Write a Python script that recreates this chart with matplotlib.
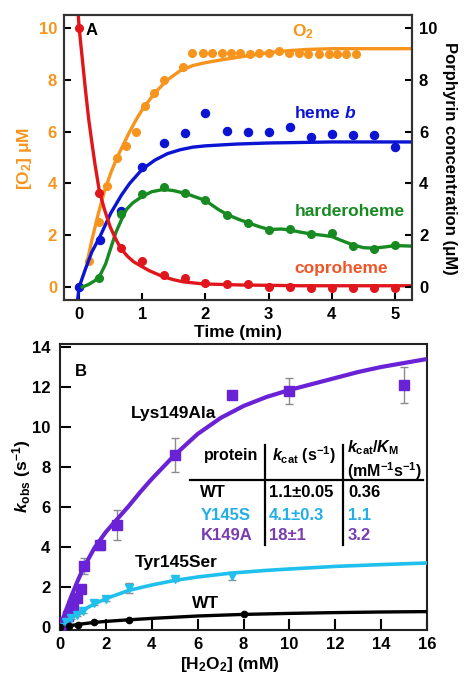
import matplotlib
matplotlib.use("Agg")
import matplotlib.pyplot as plt

plt.rcParams['font.family'] = ['Liberation Sans', 'DejaVu Sans']
plt.rcParams['font.weight'] = 'bold'
plt.rcParams['mathtext.fontset'] = 'custom'
plt.rcParams['mathtext.rm'] = 'Liberation Sans:bold'
plt.rcParams['mathtext.it'] = 'Liberation Sans:bold:italic'
plt.rcParams['mathtext.bf'] = 'Liberation Sans:bold'
plt.rcParams['mathtext.sf'] = 'Liberation Sans:bold'

# ---------------- Panel A data ----------------
o2_t = [0.16, 0.32, 0.44, 0.6, 0.74, 0.9, 1.04, 1.19, 1.35, 1.65,
        1.79, 1.96, 2.11, 2.26, 2.4, 2.55, 2.7, 2.85, 3.0, 3.16, 3.32,
        3.48, 3.63, 3.79, 3.95, 4.08, 4.22, 4.38]
o2_y = [1.0, 2.5, 3.9, 5.0, 5.45, 6.0, 7.0, 7.5, 8.0, 8.5,
        9.05, 9.05, 9.05, 9.05, 9.05, 9.05, 9.0, 9.05, 9.05, 9.1, 9.05,
        9.05, 9.0, 9.0, 9.0, 9.0, 9.0, 9.0]
o2_fit_t = [0.13, 0.2, 0.3, 0.4, 0.5, 0.6, 0.7, 0.8, 0.9, 1.0, 1.2, 1.4,
            1.6, 1.8, 2.0, 2.23, 2.6, 3.0, 3.3, 3.6, 4.0, 4.5, 5.27]
o2_fit_y = [1.0, 1.8, 2.8, 3.7, 4.4, 5.0, 5.5, 6.0, 6.45, 6.85, 7.5, 8.0,
            8.35, 8.55, 8.66, 8.76, 8.9, 9.05, 9.12, 9.17, 9.2, 9.2, 9.2]

heme_t = [0.0, 0.33, 0.67, 0.99, 1.34, 1.67, 2.0, 2.34, 2.67, 3.0, 3.34,
          3.67, 4.0, 4.33, 4.67, 5.0]
heme_y = [0.0, 1.8, 2.95, 4.65, 5.57, 5.93, 6.7, 6.02, 6.0, 6.0, 6.19,
          5.78, 5.91, 5.87, 5.87, 5.42]
heme_fit_t = [-0.03, 0.0, 0.1, 0.2, 0.33, 0.5, 0.67, 0.8, 1.0, 1.2, 1.4,
              1.6, 1.8, 2.0, 2.5, 3.0, 4.0, 5.27]
heme_fit_y = [-0.6, 0.0, 0.7, 1.35, 1.95, 2.85, 3.55, 4.0, 4.55, 4.9, 5.15,
              5.3, 5.4, 5.45, 5.52, 5.56, 5.6, 5.6]

hard_t = [0.32, 0.66, 1.0, 1.34, 1.67, 2.0, 2.34, 2.68, 3.01, 3.34, 3.67,
          4.0, 4.33, 4.67, 5.0]
hard_y = [0.36, 2.82, 3.59, 3.87, 3.64, 3.36, 2.8, 2.48, 2.2, 2.23, 2.03,
          2.07, 1.6, 1.46, 1.62]
hard_fit_t = [0.05, 0.15, 0.25, 0.33, 0.42, 0.5, 0.58, 0.67, 0.75, 0.85,
              1.0, 1.15, 1.34, 1.5, 1.7, 2.0, 2.2, 2.34, 2.55, 2.68, 2.85,
              3.01, 3.2, 3.34, 3.5, 3.67, 3.85, 4.0, 4.15, 4.33, 4.5, 4.67,
              4.85, 5.0, 5.27]
hard_fit_y = [0.0, 0.1, 0.25, 0.45, 0.9, 1.5, 2.1, 2.6, 3.0, 3.25,
              3.5, 3.68, 3.77, 3.72, 3.6, 3.34, 3.0, 2.8, 2.59, 2.48, 2.33,
              2.22, 2.24, 2.2, 2.12, 2.05, 2.0, 1.95, 1.8, 1.63, 1.52, 1.5,
              1.55, 1.6, 1.58]

copro_t = [0.0, 0.32, 0.66, 1.0, 1.34, 1.67, 2.0, 2.34, 2.68, 3.01, 3.34,
           3.67, 4.0, 4.33, 4.67, 5.0]
copro_y = [10.0, 3.64, 1.49, 1.02, 0.46, 0.36, 0.17, 0.12, 0.12, 0.0, 0.0,
           -0.05, -0.05, -0.05, -0.05, -0.05]
copro_fit_t = [-0.02, 0.0, 0.05, 0.1, 0.15, 0.2, 0.25, 0.32, 0.4, 0.49,
               0.58, 0.66, 0.76, 0.86, 1.0, 1.12, 1.33, 1.5, 1.65, 1.97,
               2.55, 3.5, 5.27]
copro_fit_y = [10.7, 10.0, 8.8, 7.6, 6.5, 5.6, 4.75, 3.7, 3.0, 2.33,
               1.85, 1.49, 1.2, 0.98, 0.78, 0.62, 0.4, 0.28, 0.2, 0.12,
               0.08, 0.05, 0.05]

# ---------------- Panel B data ----------------
k149_x = [0.0, 0.2, 0.35, 0.55, 0.75, 0.9, 1.05, 1.75, 2.5, 5.0, 7.5, 10.0, 15.0]
k149_y = [0.0, 0.25, 0.55, 1.1, 1.45, 1.9, 3.05, 4.1, 5.1, 8.6, 11.6, 11.8, 12.1]
k149_e = [0.05, 0.1, 0.1, 0.15, 0.15, 0.2, 0.4, 0.25, 0.75, 0.85, 0.2, 0.65, 0.9]
k149_fit_x = [0, 0.25, 0.5, 0.75, 1, 1.5, 2, 2.5, 3, 3.5, 4, 4.5, 5, 6, 7, 8,
              9, 10, 11, 12, 13, 14, 15, 16]
k149_fit_y = [0, 0.8, 1.55, 2.25, 2.9, 3.95, 4.75, 5.4, 6.05, 6.75, 7.4, 8.0,
              8.6, 9.65, 10.45, 11.05, 11.5, 11.85, 12.15, 12.45, 12.75, 13.0,
              13.2, 13.4]

y145_x = [0.0, 0.25, 0.5, 0.75, 1.0, 1.5, 2.0, 3.0, 5.0, 7.5]
y145_y = [0.0, 0.25, 0.45, 0.62, 0.8, 1.2, 1.4, 1.95, 2.4, 2.55]
y145_e = [0.03, 0.05, 0.05, 0.05, 0.08, 0.08, 0.1, 0.27, 0.1, 0.22]
y145_fit_x = [0, 0.25, 0.5, 1, 1.5, 2, 3, 4, 5, 6, 7.5, 9, 10, 12, 14, 16]
y145_fit_y = [0, 0.25, 0.48, 0.85, 1.15, 1.42, 1.83, 2.1, 2.33, 2.5, 2.7,
              2.83, 2.9, 3.03, 3.12, 3.2]

wt_x = [0.0, 0.4, 0.8, 1.5, 3.0, 8.0]
wt_y = [0.0, 0.05, 0.12, 0.27, 0.36, 0.65]
wt_fit_x = [0, 0.5, 1, 1.5, 2, 3, 4, 6, 8, 10, 12, 14, 16]
wt_fit_y = [0, 0.08, 0.16, 0.23, 0.28, 0.36, 0.43, 0.55, 0.63, 0.68, 0.72,
            0.75, 0.77]

table_proteins = ['WT', 'Y145S', 'K149A']
table_kcat = ['1.1\u00b10.05', '4.1\u00b10.3', '18\u00b11']
table_kcat_km = ['0.36', '1.1', '3.2']

ORANGE = '#F7941D'
BLUE = '#0A14D2'
GREEN = '#178A22'
RED = '#E0161C'
COPRO_TXT = '#EE5529'
PURPLE = '#6A22D6'
PURPLE_TXT = '#7A3DB0'
CYAN = '#20C0EE'
CYAN_TXT = '#22AEE6'
GRAY = '#8C8C8C'

W, H = 465, 690
fig = plt.figure(figsize=(W / 100, H / 100), dpi=100)

def fx(px):
    return px / W

def fy(py):
    return 1 - py / H

# ---------------- Panel A ----------------
axA = fig.add_axes([fx(64), fy(300), fx(412) - fx(64), fy(15) - fy(300)])
axA.plot(o2_fit_t, o2_fit_y, color=ORANGE, lw=2.4, zorder=3)
axA.plot(o2_t, o2_y, 'o', color=ORANGE, ms=5.5, zorder=3)
axA.plot(heme_fit_t, heme_fit_y, color=BLUE, lw=2.4, zorder=3)
axA.plot(heme_t, heme_y, 'o', color=BLUE, ms=5.8, zorder=3)
axA.plot(hard_fit_t, hard_fit_y, color=GREEN, lw=2.4, zorder=3)
axA.plot(hard_t, hard_y, 'o', color=GREEN, ms=5.5, zorder=3)
axA.plot(copro_fit_t, copro_fit_y, color=RED, lw=2.4, zorder=3)
axA.plot(copro_t, copro_y, 'o', color=RED, ms=5.5, zorder=3)
axA.set_xlim(-0.24, 5.27)
axA.set_ylim(-0.5, 10.5)
axA.set_xticks([0, 1, 2, 3, 4, 5])
axA.set_yticks([0, 2, 4, 6, 8, 10])
axA.tick_params(direction='in', length=5, width=1.5, labelsize=12, pad=5)
axA.tick_params(axis='y', labelcolor=ORANGE)
for s in axA.spines.values():
    s.set_linewidth(1.5)
    s.set_color('#333333')

axA2 = axA.twinx()
axA2.set_ylim(-0.5, 10.5)
axA2.set_yticks([0, 2, 4, 6, 8, 10])
axA2.tick_params(direction='in', length=5, width=1.5, labelsize=12, pad=5)
for s in axA2.spines.values():
    s.set_linewidth(1.5)
    s.set_color('#333333')

axA.text(0.2, 9.92, 'A', fontsize=12, fontweight='bold', ha='center', va='center')
axA.text(3.54, 9.85, 'O$_2$', fontsize=12.5, color=ORANGE, ha='center', va='center')
axA.text(3.89, 6.72, 'heme $b$', fontsize=12.5, color=BLUE, ha='center', va='center')
axA.text(4.29, 2.9, 'harderoheme', fontsize=12.5, color=GREEN, ha='center', va='center')
axA.text(4.15, 0.73, 'coproheme', fontsize=12.5, color=COPRO_TXT, ha='center', va='center')

fig.text(fx(24), fy(158), '[O$_2$] \u03bcM', color=ORANGE, fontsize=12.5,
         rotation=90, ha='center', va='center')
fig.text(fx(449), fy(158), 'Porphyrin concentration (\u03bcM)', fontsize=12,
         rotation=270, ha='center', va='center')
fig.text(fx(238), fy(333), 'Time (min)', fontsize=12.5, ha='center', va='center')

# ---------------- Panel B ----------------
axB = fig.add_axes([fx(60), fy(630), fx(427) - fx(60), fy(344) - fy(630)])
axB.errorbar(k149_x, k149_y, yerr=k149_e, fmt='none', ecolor=GRAY, elinewidth=1,
             capsize=3, capthick=1, zorder=2)
axB.errorbar(y145_x, y145_y, yerr=y145_e, fmt='none', ecolor=GRAY, elinewidth=1,
             capsize=3, capthick=1, zorder=2)
axB.plot(k149_fit_x, k149_fit_y, color=PURPLE, lw=3, zorder=3)
axB.plot(k149_x, k149_y, 's', color=PURPLE, ms=6.5, zorder=4)
axB.plot(y145_fit_x, y145_fit_y, color=CYAN, lw=2.6, zorder=3)
axB.plot(y145_x, y145_y, 'v', color=CYAN, ms=5.5, zorder=4)
axB.plot(wt_fit_x, wt_fit_y, color='black', lw=2.4, zorder=3)
axB.plot(wt_x, wt_y, 'o', color='black', ms=4.5, zorder=4)
axB.set_xlim(0, 16)
axB.set_ylim(-0.15, 14.15)
axB.set_xticks(range(0, 17, 2))
axB.set_yticks(range(0, 15, 2))
axB.tick_params(direction='in', length=8, width=1.5, labelsize=12)
axB.tick_params(axis='y', pad=7)
axB.tick_params(axis='x', pad=5)
for s in axB.spines.values():
    s.set_linewidth(1.5)
    s.set_color('#222222')

axB.text(0.89, 12.8, 'B', fontsize=12, ha='center', va='center')
axB.text(4.94, 10.7, 'Lys149Ala', fontsize=12.5, ha='center', va='center')
axB.text(5.07, 3.25, 'Tyr145Ser', fontsize=12.5, ha='center', va='center')
axB.text(6.34, 1.2, 'WT', fontsize=12.5, ha='center', va='center')

# table
TFS = 11.5
axB.text(7.47, 8.6, 'protein', fontsize=TFS, ha='center', va='center')
axB.text(10.62, 8.6, '$k_{\\mathrm{cat}}$ (s$^{\\mathrm{-1}}$)', fontsize=TFS,
         ha='center', va='center')
axB.text(12.5, 8.95, '$k_{\\mathrm{cat}}/K_{\\mathrm{M}}$', fontsize=TFS,
         ha='left', va='center')
axB.text(12.5, 7.8, '(mM$^{\\mathrm{-1}}$s$^{\\mathrm{-1}}$)', fontsize=TFS,
         ha='left', va='center')
axB.plot([5.68, 15.82], [7.35, 7.35], color='black', lw=1.6, zorder=5)
axB.plot([8.95, 8.95], [4.1, 9.1], color='black', lw=1.6, zorder=5)
axB.plot([12.34, 12.34], [4.1, 9.1], color='black', lw=1.6, zorder=5)
row_y = [6.75, 5.6, 4.6]
row_c = ['black', CYAN_TXT, PURPLE_TXT]
for p, kc, kk, yy, cc in zip(table_proteins, table_kcat, table_kcat_km, row_y, row_c):
    axB.text(6.12, yy, p, fontsize=12, color=cc, ha='left', va='center')
    axB.text(9.12, yy, kc, fontsize=12, color=cc, ha='left', va='center')
    axB.text(12.56, yy, kk, fontsize=12, color=cc, ha='left', va='center')

fig.text(fx(22), fy(476), '$k_{\\mathrm{obs}}$ (s$^{\\mathrm{-1}}$)', fontsize=12.5,
         rotation=90, ha='center', va='center')
fig.text(fx(230), fy(665), '[H$_2$O$_2$] (mM)', fontsize=12.5, ha='center', va='center')

fig.savefig('out.png', dpi=100)
